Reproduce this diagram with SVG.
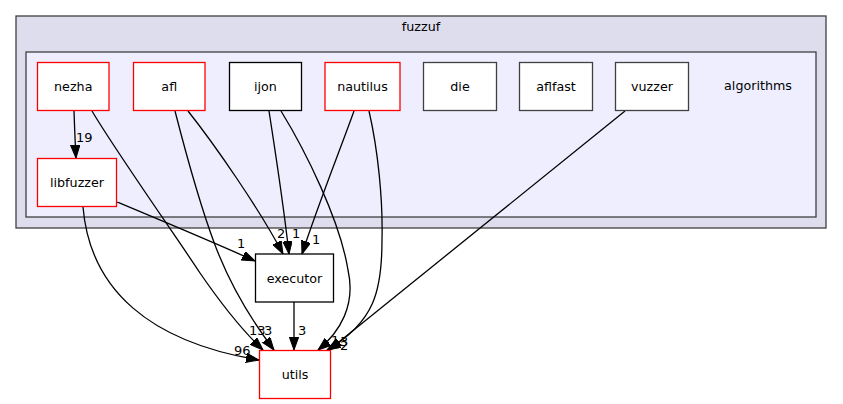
<svg xmlns="http://www.w3.org/2000/svg" width="843" height="404" viewBox="0 0 843 404">
  <style>
    text { font-family: "DejaVu Sans", "Liberation Sans", sans-serif; fill: #000; }
    .lbl { font-size: 12.7px; text-anchor: middle; }
    .elbl { font-size: 13px; }
    .dir { fill: #ffffff; stroke-width: 1.3; }
    .red { stroke: #ff0000; }
    .blk { stroke: #404040; }
    .edge path { fill: none; stroke: #000; stroke-width: 1.3; marker-end: url(#arrow); }
  </style>
  <defs>
    <marker id="arrow" markerUnits="userSpaceOnUse" markerWidth="14" markerHeight="10" refX="13" refY="4.7" orient="auto">
      <path d="M0,0 L13,4.7 L0,9.4 z" fill="#000" stroke="#000" stroke-width="1"/>
    </marker>
  </defs>

  <rect width="843" height="404" fill="#ffffff"/>

  <!-- directory clusters -->
  <g id="cluster_fuzzuf">
    <rect x="16" y="16" width="810" height="212" fill="#ddddee" stroke="#404040" stroke-width="1.3"/>
    <text class="lbl" x="421" y="31">fuzzuf</text>
  </g>
  <g id="cluster_algorithms">
    <rect x="26" y="52" width="790" height="165" fill="#eeeeff" stroke="#404040" stroke-width="1.3"/>
    <text class="lbl" x="758" y="90">algorithms</text>
  </g>

  <!-- dependency edges -->
  <g id="edges" class="edge">
    <path d="M74,111 C74.5,125 75,140 76,158"/>
    <path d="M92,111 C115,150 175,235 200,273 C222,305 245,333 263,350"/>
    <path d="M175,111 C185,150 200,205 215,245 C232,290 255,325 274,350"/>
    <path d="M188,111 C215,145 260,210 283,254"/>
    <path d="M269,111 C275,150 283,200 289,254"/>
    <path d="M281,111 C305,150 340,220 348,270 C356,305 340,332 318,350"/>
    <path d="M354,111 C340,150 318,205 302,254"/>
    <path d="M369,111 C378,150 383,200 382,240 C382,290 375,322 327,350"/>
    <path d="M625,111 L329,350"/>
    <path d="M117,202 C160,220 215,243 255,261"/>
    <path d="M83,207 C90,290 150,342 259,360"/>
    <path d="M294,302 L294,350"/>

    <text class="elbl" x="76" y="142">19</text>
    <text class="elbl" x="249" y="335">13</text>
    <text class="elbl" x="264" y="335">3</text>
    <text class="elbl" x="277" y="238">2</text>
    <text class="elbl" x="292" y="238">1</text>
    <text class="elbl" x="312" y="244">1</text>
    <text class="elbl" x="237" y="248">1</text>
    <text class="elbl" x="234" y="355">96</text>
    <text class="elbl" x="298" y="335">3</text>
    <text class="elbl" x="331" y="345">1</text>
    <text class="elbl" x="340" y="346">3</text>
    <text class="elbl" x="340" y="350">2</text>
  </g>

  <!-- directory nodes -->
  <g id="nezha">
    <rect class="dir red" x="37.5" y="62.5" width="71.5" height="48"/>
    <text class="lbl" x="73.25" y="91">nezha</text>
  </g>
  <g id="afl">
    <rect class="dir red" x="133.5" y="62.5" width="71.5" height="48"/>
    <text class="lbl" x="169.25" y="91">afl</text>
  </g>
  <g id="ijon">
    <rect class="dir" stroke="#000" x="229.5" y="62.5" width="72" height="48"/>
    <text class="lbl" x="265.5" y="91">ijon</text>
  </g>
  <g id="nautilus">
    <rect class="dir red" x="325" y="62.5" width="75" height="48"/>
    <text class="lbl" x="362.5" y="91">nautilus</text>
  </g>
  <g id="die">
    <rect class="dir blk" x="423.5" y="62.5" width="73" height="48"/>
    <text class="lbl" x="460" y="91">die</text>
  </g>
  <g id="aflfast">
    <rect class="dir blk" x="519.5" y="62.5" width="73" height="48"/>
    <text class="lbl" x="556" y="91">aflfast</text>
  </g>
  <g id="vuzzer">
    <rect class="dir blk" x="615.5" y="62.5" width="73" height="48"/>
    <text class="lbl" x="652" y="91">vuzzer</text>
  </g>
  <g id="libfuzzer">
    <rect class="dir red" x="37.5" y="158.5" width="79" height="48"/>
    <text class="lbl" x="77" y="187">libfuzzer</text>
  </g>
  <g id="executor">
    <rect class="dir" stroke="#000" x="255.5" y="254" width="78" height="48"/>
    <text class="lbl" x="294.5" y="282.5">executor</text>
  </g>
  <g id="utils">
    <rect class="dir red" x="259.5" y="350.5" width="71" height="48"/>
    <text class="lbl" x="295" y="379">utils</text>
  </g>
</svg>
